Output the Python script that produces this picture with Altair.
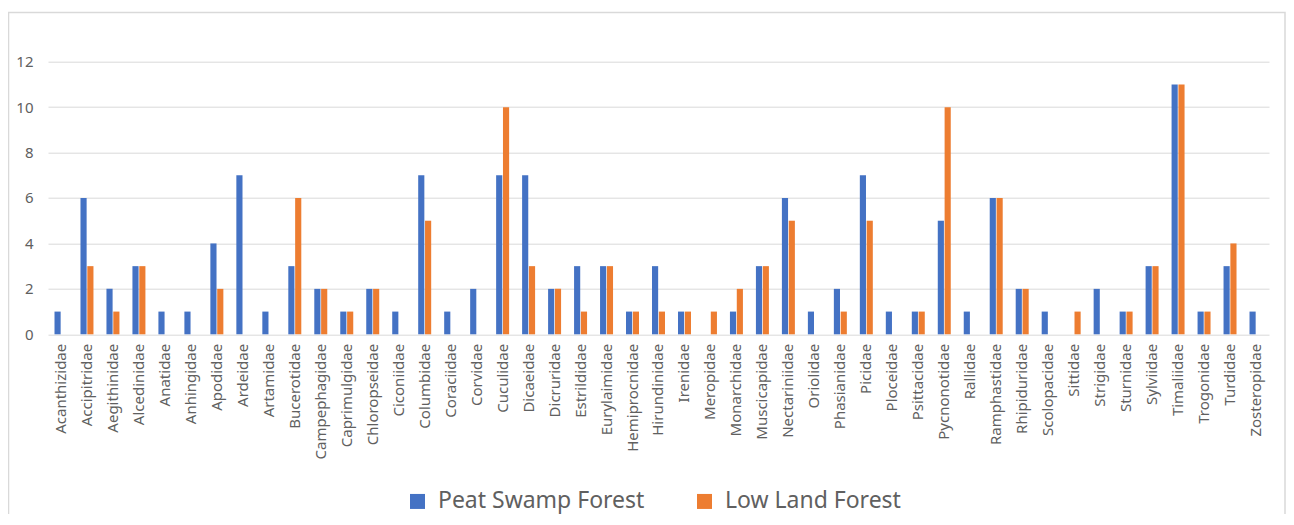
import altair as alt
import pandas as pd

families = [
    "Acanthizidae", "Accipitridae", "Aegithinidae", "Alcedinidae", "Anatidae",
    "Anhingidae", "Apodidae", "Ardeidae", "Artamidae", "Bucerotidae",
    "Campephagidae", "Caprimulgidae", "Chloropseidae", "Ciconiidae", "Columbidae",
    "Coraciidae", "Corvidae", "Cuculidae", "Dicaeidae", "Dicruridae",
    "Estrildidae", "Eurylaimidae", "Hemiprocnidae", "Hirundinidae", "Irenidae",
    "Meropidae", "Monarchidae", "Muscicapidae", "Nectariniidae", "Oriolidae",
    "Phasianidae", "Picidae", "Ploceidae", "Psittacidae", "Pycnonotidae",
    "Rallidae", "Ramphastidae", "Rhipiduridae", "Scolopacidae", "Sittidae",
    "Strigidae", "Sturnidae", "Sylviidae", "Timaliidae", "Trogonidae",
    "Turdidae", "Zosteropidae",
]
peat_swamp = [1, 6, 2, 3, 1, 1, 4, 7, 1, 3, 2, 1, 2, 1, 7, 1, 2, 7, 7, 2, 3, 3, 1, 3, 1,
              0, 1, 3, 6, 1, 2, 7, 1, 1, 5, 1, 6, 2, 1, 0, 2, 1, 3, 11, 1, 3, 1]
low_land = [0, 3, 1, 3, 0, 0, 2, 0, 0, 6, 2, 1, 2, 0, 5, 0, 0, 10, 3, 2, 1, 3, 1, 1, 1,
            1, 2, 3, 5, 0, 1, 5, 0, 1, 10, 0, 6, 2, 0, 1, 0, 1, 3, 11, 1, 4, 0]
series_names = ["Peat Swamp Forest", "Low Land Forest"]
series_colors = ["#4472C4", "#ED7D31"]
y_ticks = [0, 2, 4, 6, 8, 10, 12]

rows = []
for f, p, l in zip(families, peat_swamp, low_land):
    rows.append({"Family": f, "Habitat": series_names[0], "Species": p})
    rows.append({"Family": f, "Habitat": series_names[1], "Species": l})
df = pd.DataFrame(rows)

FONT = "Noto Sans"
GRAY = "#606060"

bars = alt.Chart(df).mark_bar().encode(
    x=alt.X(
        "Family:N", sort=families,
        scale=alt.Scale(paddingInner=0.5, paddingOuter=0.25),
        axis=alt.Axis(title=None, labelAngle=270, labelFontSize=15, labelColor=GRAY,
                      labelFont=FONT, ticks=False, tickSize=0, labelPadding=9,
                      domain=False, grid=False, labelLimit=300),
    ),
    xOffset=alt.XOffset("Habitat:N", sort=series_names, scale=alt.Scale(paddingInner=0.1)),
    y=alt.Y(
        "Species:Q", scale=alt.Scale(domain=[0, 12]),
        axis=alt.Axis(title=None, values=y_ticks, labelFontSize=15, labelColor=GRAY,
                      labelFont=FONT, ticks=False, tickSize=0, labelPadding=15,
                      domain=False, grid=True, gridColor="#d9d9d9", gridWidth=1),
    ),
    color=alt.Color(
        "Habitat:N", sort=series_names,
        scale=alt.Scale(domain=series_names, range=series_colors),
        legend=alt.Legend(title=None, orient="none", legendX=358, legendY=428,
                          direction="horizontal", symbolType="square", symbolSize=225,
                          symbolStrokeWidth=0, symbolOpacity=1, labelFontSize=23,
                          labelFont=FONT, labelColor=GRAY, labelOffset=9,
                          columnPadding=48, labelLimit=400, padding=0),
    ),
)

frame = alt.Chart(alt.Data(values=[{}])).mark_rect(
    fill="white", fillOpacity=0, stroke="#d9d9d9", strokeWidth=1.5
).encode(
    x=alt.value(-39.5), x2=alt.value(1237),
    y=alt.value(-49.2), y2=alt.value(600),
)

chart = alt.layer(frame, bars).properties(
    width=1221, height=272.6,
    autosize=alt.AutoSizeParams(type="none"),
    padding={"left": 40, "top": 53.7, "right": 17, "bottom": 180},
    background="white",
).configure_view(stroke=None)

chart.save("out.html", embed_options={"renderer": "svg", "actions": False})
